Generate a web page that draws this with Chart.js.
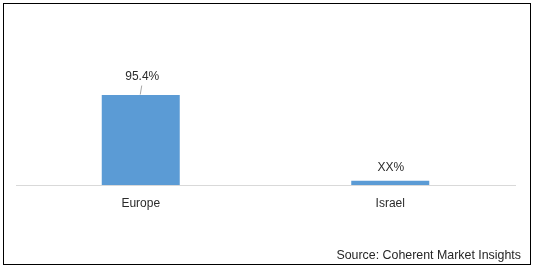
<!DOCTYPE html>
<html>
<head>
<meta charset="utf-8">
<script src="https://cdn.jsdelivr.net/npm/chart.js@4.4.1/dist/chart.umd.min.js"></script>
<style>
  html, body { margin: 0; padding: 0; background: #ffffff; }
  #wrap { position: relative; width: 534px; height: 269px; }
  #frame { position: absolute; left: 3px; top: 3px; width: 526px; height: 260px; border: 1px solid #000; box-sizing: content-box; pointer-events: none; }
  #src { position: absolute; right: 13px; top: 248px; font: 12.4px "Liberation Sans", Arial, sans-serif; color: #262626; white-space: nowrap; }
  canvas { position: absolute; left: 0; top: 0; }
</style>
</head>
<body>
<div id="wrap">
  <canvas id="c" width="534" height="269"></canvas>
  <div id="frame"></div>
  <div id="src">Source: Coherent Market Insights</div>
</div>
<script>
const categories = ["Europe", "Israel"];
const shareValues = [95.4, 4.6];
const shareLabels = ["95.4%", "XX%"];
const yMin = 0;
const yMax = 100;

const FONT = '"Liberation Sans", Arial, sans-serif';
const TEXT = '#2b2b2b';

const labelPlugin = {
  id: 'barLabels',
  afterDatasetsDraw(chart) {
    const ctx = chart.ctx;
    const meta = chart.getDatasetMeta(0);
    ctx.save();
    ctx.font = '12px ' + FONT;
    ctx.fillStyle = TEXT;
    ctx.textAlign = 'center';
    ctx.textBaseline = 'middle';
    meta.data.forEach((bar, i) => {
      const lifted = i === 0;
      const ly = bar.y - (lifted ? 18 : 13);
      const lx = bar.x + (lifted ? 1.5 : 0.5);
      ctx.fillText(shareLabels[i], lx, ly);
      if (lifted) {
        ctx.strokeStyle = '#a6a6a6';
        ctx.lineWidth = 1;
        ctx.beginPath();
        ctx.moveTo(bar.x + 1, ly + 8.5);
        ctx.lineTo(bar.x - 0.5, bar.y - 0.5);
        ctx.stroke();
      }
    });
    ctx.restore();
  }
};

new Chart(document.getElementById('c'), {
  type: 'bar',
  data: {
    labels: categories,
    datasets: [{
      data: shareValues,
      backgroundColor: '#5b9bd5',
      borderWidth: 0,
      categoryPercentage: 1,
      barPercentage: 0.3126
    }]
  },
  options: {
    responsive: false,
    animation: false,
    events: [],
    layout: { padding: { left: 16, right: 19, top: 90.7, bottom: 47.6 } },
    plugins: { legend: { display: false }, tooltip: { enabled: false } },
    scales: {
      x: {
        grid: { display: false, drawTicks: false },
        border: { display: true, color: '#d9d9d9', width: 1 },
        ticks: { color: TEXT, font: { family: FONT, size: 12 }, padding: 11 }
      },
      y: { display: false, min: yMin, max: yMax }
    }
  },
  plugins: [labelPlugin]
});
</script>
</body>
</html>
